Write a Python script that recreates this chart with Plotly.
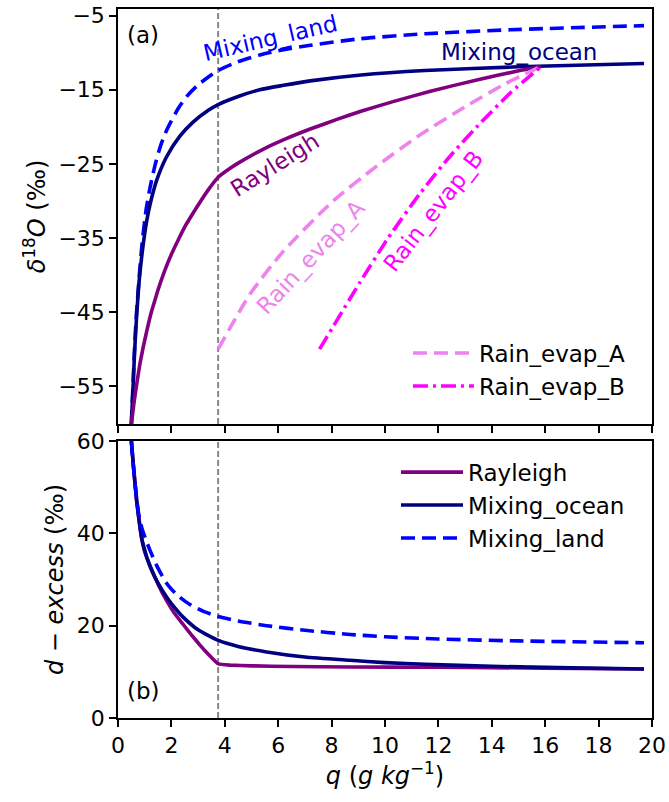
import plotly.graph_objects as go

# ---- specific humidity q (g/kg) and delta18O (permil), upper panel ----
q_rayleigh_a = [0.50, 0.60, 0.71, 0.82, 0.94, 1.10, 1.25, 1.50, 1.75, 2.00, 2.25, 2.50, 2.75,
                3.10, 3.40, 3.75, 4.20, 4.50, 5.45, 6.30, 7.20, 8.20, 9.10, 10.30, 11.70,
                13.40, 15.05, 15.85]
d18o_rayleigh = [-60.1, -57.2, -54.5, -52.0, -49.8, -47.2, -45.0, -42.0, -39.4, -37.2, -35.3, -33.5, -32.0,
                 -30.0, -28.4, -26.8, -25.6, -24.9, -23.0, -21.6, -20.3, -19.0, -17.9, -16.6, -15.2,
                 -13.7, -12.4, -11.85]

q_ocean_a = [0.50, 0.56, 0.62, 0.69, 0.80, 0.94, 1.07, 1.20, 1.44, 1.81, 2.31, 2.80, 3.37, 3.75,
             4.50, 5.31, 6.20, 7.20, 9.10, 11.50, 15.00, 19.70]
d18o_ocean = [-60.1, -55.5, -50.5, -46.0, -40.5, -36.0, -32.8, -30.5, -27.3, -24.1, -21.3, -19.4, -17.8, -17.0,
              -15.9, -15.0, -14.4, -13.8, -13.0, -12.4, -11.9, -11.45]

q_land_a = [0.50, 0.56, 0.62, 0.69, 0.80, 0.90, 1.06, 1.20, 1.40, 1.60, 1.83, 2.26, 2.60, 2.95,
            3.37, 3.75, 4.50, 5.31, 6.20, 7.20, 9.10, 11.50, 14.70, 19.70]
d18o_land = [-60.1, -55.0, -50.0, -45.3, -40.0, -35.8, -31.0, -28.2, -25.0, -22.5, -20.4, -17.5, -15.8, -14.5,
             -13.3, -12.4, -11.2, -10.3, -9.6, -9.0, -8.1, -7.45, -6.9, -6.35]

q_evap_a = [3.75, 4.94, 6.19, 8.06, 9.69, 11.35, 13.00, 14.50, 15.85]
d18o_evap_a = [-50.0, -42.6, -36.8, -30.0, -25.3, -21.0, -17.3, -14.2, -11.85]

q_evap_b = [7.55, 9.06, 10.10, 11.31, 12.50, 13.60, 14.70, 15.85]
d18o_evap_b = [-50.0, -41.0, -35.1, -29.0, -23.7, -19.4, -15.4, -11.85]

# ---- d-excess (permil), lower panel ----
q_rayleigh_b = [0.50, 0.55, 0.61, 0.70, 0.82, 0.90, 1.00, 1.20, 1.50, 1.82, 2.10, 2.45, 2.75, 3.07,
                3.40, 3.76, 4.20, 5.00, 6.50, 8.69, 12.00, 16.00, 19.70]
dex_rayleigh = [60.0, 56.5, 52.5, 47.0, 41.5, 38.5, 36.0, 33.0, 29.0, 25.4, 22.8, 20.2, 18.0, 15.8,
                13.7, 11.7, 11.45, 11.3, 11.15, 11.05, 11.0, 10.8, 10.6]

q_ocean_b = [0.50, 0.55, 0.61, 0.70, 0.82, 0.90, 1.00, 1.10, 1.26, 1.50, 1.82, 2.00, 2.45, 3.00,
             3.76, 4.50, 5.57, 7.00, 8.69, 10.00, 11.50, 14.00, 17.00, 19.70]
dex_ocean = [60.0, 56.5, 52.5, 47.0, 41.5, 38.6, 36.4, 34.4, 32.0, 29.2, 26.2, 24.8, 21.8, 19.1,
             16.8, 15.5, 14.3, 13.2, 12.5, 12.0, 11.65, 11.2, 10.85, 10.6]

q_land_b = [0.50, 0.56, 0.62, 0.70, 0.78, 0.90, 1.05, 1.20, 1.45, 1.82, 2.20, 2.69, 3.20, 3.76,
            4.50, 5.57, 7.00, 8.69, 10.00, 12.00, 15.00, 19.70]
dex_land = [60.0, 55.5, 52.0, 47.5, 44.0, 41.0, 38.5, 36.3, 33.0, 29.2, 26.7, 24.6, 23.1, 22.0,
            21.0, 20.0, 19.0, 18.1, 17.6, 17.1, 16.7, 16.3]

q_marker = 3.75

x_ticks = list(range(0, 21, 2))
y_ticks_top = [-55, -45, -35, -25, -15, -5]
y_ticks_bot = [0, 20, 40, 60]

C_RAY = "#800080"
C_OCEAN = "#000080"
C_LAND = "#0000FF"
C_EVA = "#EE82EE"
C_EVB = "#FF00FF"
LW = 3.6
FONT = "DejaVu Sans"
TICK_SIZE = 22
TEXT_SIZE = 23
TITLE_SIZE = 24

fig = go.Figure()

def curve(x, y, color, dash, name, xa, ya, legend=None, group=None, smooth=0.6):
    fig.add_trace(go.Scatter(
        x=x, y=y, mode="lines", name=name,
        line=dict(color=color, width=LW, dash=dash, shape="spline", smoothing=smooth),
        xaxis=xa, yaxis=ya,
        showlegend=legend is not None,
        legend=legend if legend else "legend",
        legendgroup=group,
    ))

# upper panel
curve(q_land_a, d18o_land, C_LAND, "14px,7px", "Mixing_land", "x2", "y2")
curve(q_ocean_a, d18o_ocean, C_OCEAN, "solid", "Mixing_ocean", "x2", "y2")
curve(q_rayleigh_a, d18o_rayleigh, C_RAY, "solid", "Rayleigh", "x2", "y2", smooth=0.4)
curve(q_evap_a, d18o_evap_a, C_EVA, "14px,7px", "Rain_evap_A", "x2", "y2", legend="legend", group="a")
curve(q_evap_b, d18o_evap_b, C_EVB, "15px,5px,3px,5px", "Rain_evap_B", "x2", "y2", legend="legend", group="b")

# lower panel
curve(q_rayleigh_b, dex_rayleigh, C_RAY, "solid", "Rayleigh", "x", "y", legend="legend2", group="r", smooth=0.3)
curve(q_ocean_b, dex_ocean, C_OCEAN, "solid", "Mixing_ocean", "x", "y", legend="legend2", group="o")
curve(q_land_b, dex_land, C_LAND, "14px,7px", "Mixing_land", "x", "y", legend="legend2", group="l")

for yref in ("y domain", "y2 domain"):
    fig.add_shape(type="line", xref="x", yref=yref, x0=q_marker, x1=q_marker, y0=0, y1=1,
                  line=dict(color="#888888", width=2, dash="6px,3px"), layer="below")

def label(text, x, y, color, angle, xa="x2", ya="y2", size=TEXT_SIZE):
    fig.add_annotation(text=text, x=x, y=y, xref=xa, yref=ya, showarrow=False,
                       textangle=angle, font=dict(color=color, size=size, family=FONT))

label("(a)", 0.95, -7.6, "black", 0)
label("Mixing_land", 5.7, -8.0, C_LAND, -13)
label("Mixing_ocean", 15.0, -9.9, C_OCEAN, 0)
label("Rayleigh", 5.85, -25.1, C_RAY, -32)
label("Rain_evap_A", 7.22, -37.6, C_EVA, -47)
label("Rain_evap_B", 11.8, -31.3, C_EVB, -52)
label("(b)", 0.95, 5.8, "black", 0, xa="x", ya="y")

axis_common = dict(showline=True, linecolor="black", linewidth=1.5, mirror=True,
                   ticks="outside", ticklen=7, tickwidth=1.5, tickcolor="black",
                   showgrid=False, zeroline=False, automargin=False,
                   tickfont=dict(size=TICK_SIZE, family=FONT, color="black"))

fig.update_layout(
    width=669, height=802,
    margin=dict(l=118, r=17, t=9, b=84, pad=0, autoexpand=False),
    plot_bgcolor="white", paper_bgcolor="white",
    font=dict(family=FONT, color="black"),
    xaxis=dict(domain=[0, 1], anchor="y", range=[0, 20], tickvals=x_ticks,
               title=dict(text="<i>q</i> (<i>g kg</i><sup>−1</sup>)", font=dict(size=TITLE_SIZE), standoff=8),
               **axis_common),
    yaxis=dict(domain=[0, 0.3907], anchor="x", range=[0, 60], tickvals=y_ticks_bot,
               title=dict(text="<i>d</i> − <i>excess</i> (‰)", font=dict(size=TITLE_SIZE), standoff=6),
               **axis_common),
    xaxis2=dict(domain=[0, 1], anchor="y2", range=[0, 20], tickvals=x_ticks, matches="x",
                showticklabels=False, **axis_common),
    yaxis2=dict(domain=[0.4147, 1], anchor="x2", range=[-60.1, -4.1], tickvals=y_ticks_top,
                title=dict(text="<i>δ</i><sup>18</sup><i>O</i> (‰)", font=dict(size=TITLE_SIZE), standoff=6),
                **axis_common),
    legend=dict(x=0.543, y=0.545, xanchor="left", yanchor="top", bgcolor="rgba(255,255,255,0)",
                font=dict(size=TEXT_SIZE, family=FONT), traceorder="grouped", tracegroupgap=0,
                itemwidth=61),
    legend2=dict(x=0.5206, y=0.377, xanchor="left", yanchor="top", bgcolor="rgba(255,255,255,0)",
                 font=dict(size=TEXT_SIZE, family=FONT), traceorder="grouped", tracegroupgap=0,
                 itemwidth=62),
)

fig.write_html("out.html")
